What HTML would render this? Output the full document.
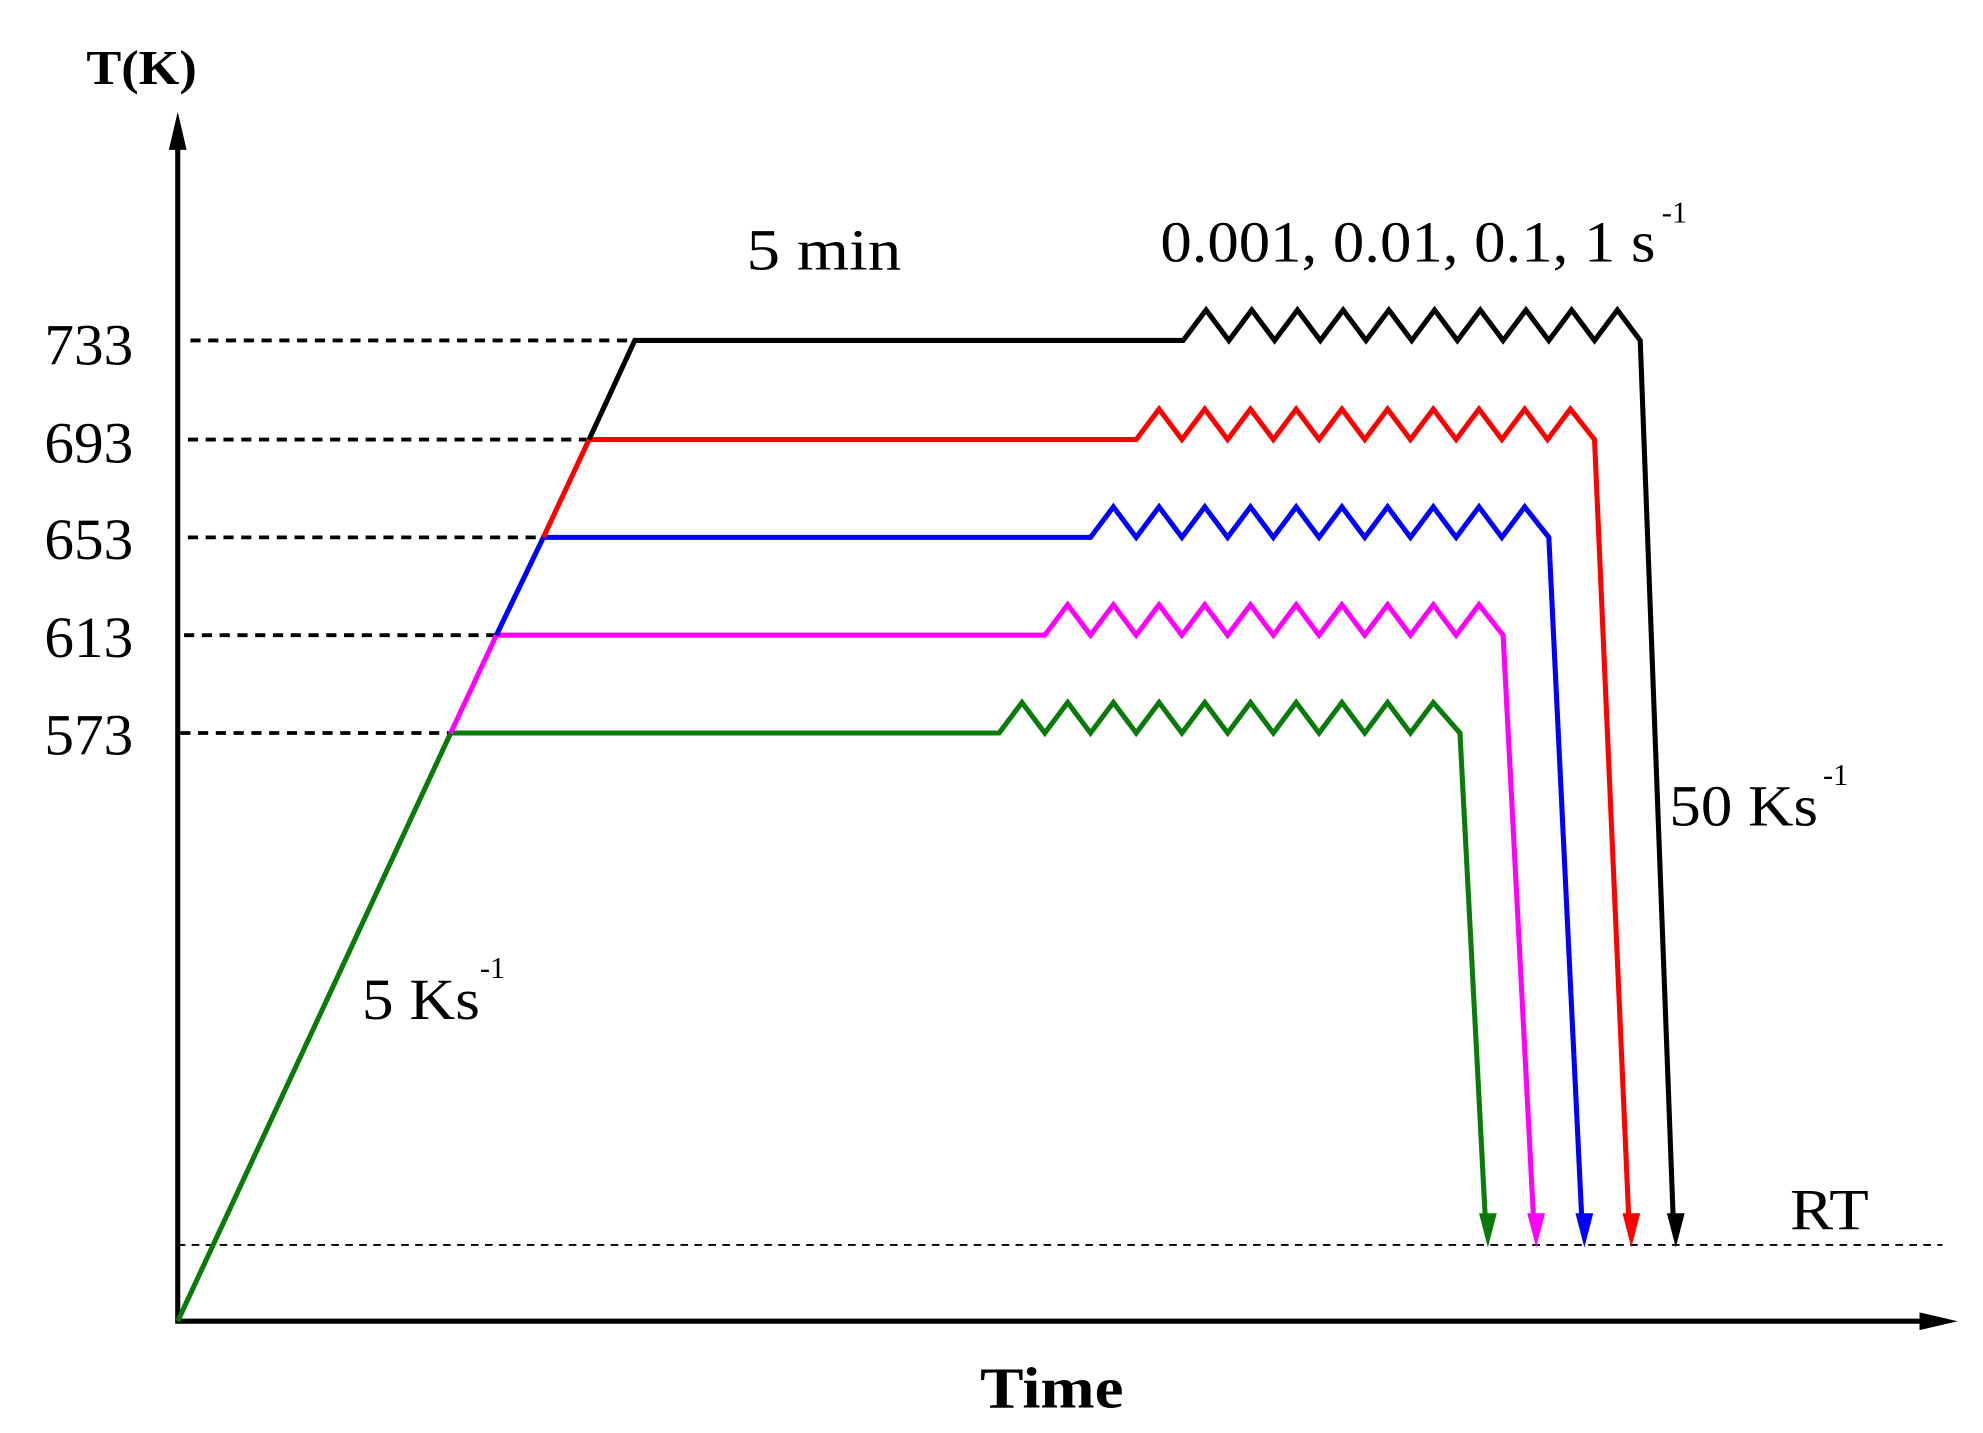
<!DOCTYPE html>
<html><head><style>html,body{margin:0;padding:0;background:#fff}svg{display:block}</style></head>
<body>
<svg width="1983" height="1433" viewBox="0 0 1562 1128" preserveAspectRatio="none" xmlns="http://www.w3.org/2000/svg" font-family="'Liberation Serif', serif">
<!-- axes -->
<line x1="140" y1="1040" x2="140" y2="105" stroke="#000" stroke-width="4"/>
<polygon points="140,88 133,118 147,118" fill="#000"/>
<line x1="138" y1="1040" x2="1515" y2="1040" stroke="#000" stroke-width="4"/>
<polygon points="1542,1040 1512,1033 1512,1047" fill="#000"/>
<!-- RT line -->
<line x1="140" y1="980" x2="1530" y2="980" stroke="#000" stroke-width="1.5" stroke-dasharray="6 5"/>
<!-- level dashes -->
<g stroke="#000" stroke-width="3" stroke-dasharray="8 6">
<line x1="150" y1="268" x2="498" y2="268"/>
<line x1="148" y1="346" x2="462" y2="346"/>
<line x1="148" y1="423" x2="426" y2="423"/>
<line x1="145" y1="500" x2="398" y2="500"/>
<line x1="142" y1="577" x2="355" y2="577"/>
</g>
<g fill="none" stroke-width="4" stroke-linejoin="miter">
<polyline stroke="#0a7a0a" points="140,1040 355,577 787,577 805,553 823,577 841,553 859,577 877,553 895,577 913,553 931,577 949,553 967,577 985,553 1003,577 1021,553 1039,577 1057,553 1075,577 1093,553 1111,577 1129,553 1150,577 1170,960"/>
<polyline stroke="#ff00ff" points="355,577 391,500 823,500 841,476 859,500 877,476 895,500 913,476 931,500 949,476 967,500 985,476 1003,500 1021,476 1039,500 1057,476 1075,500 1093,476 1111,500 1129,476 1147,500 1165,476 1184,500 1208,960"/>
<polyline stroke="#0000ff" points="391,500 428,423 859,423 877,399 895,423 913,399 931,423 949,399 967,423 985,399 1003,423 1021,399 1039,423 1057,399 1075,423 1093,399 1111,423 1129,399 1147,423 1165,399 1183,423 1201,399 1220,423 1246,960"/>
<polyline stroke="#ff0000" points="428,423 464,346 895,346 913,322 931,346 949,322 967,346 985,322 1003,346 1021,322 1039,346 1057,322 1075,346 1093,322 1111,346 1129,322 1147,346 1165,322 1183,346 1201,322 1219,346 1237,322 1256,346 1283,960"/>
<polyline stroke="#000" points="464,346 500,268 932,268 950,244 968,268 986,244 1004,268 1022,244 1040,268 1058,244 1076,268 1094,244 1112,268 1130,244 1148,268 1166,244 1184,268 1202,244 1220,268 1238,244 1256,268 1274,244 1292,268 1318,960"/>
</g>
<polygon points="1172,982 1165,955 1179,955" fill="#0a7a0a"/>
<polygon points="1210,982 1203,955 1217,955" fill="#ff00ff"/>
<polygon points="1248,982 1241,955 1255,955" fill="#0000ff"/>
<polygon points="1285,982 1278,955 1292,955" fill="#ff0000"/>
<polygon points="1320,982 1313,955 1327,955" fill="#000"/>
<!-- text -->
<g font-size="46" fill="#000">
<text x="35" y="287" textLength="70" lengthAdjust="spacingAndGlyphs">733</text>
<text x="35" y="364" textLength="70" lengthAdjust="spacingAndGlyphs">693</text>
<text x="35" y="440" textLength="70" lengthAdjust="spacingAndGlyphs">653</text>
<text x="35" y="517" textLength="70" lengthAdjust="spacingAndGlyphs">613</text>
<text x="35" y="594" textLength="70" lengthAdjust="spacingAndGlyphs">573</text>
<text x="588" y="212" textLength="122" lengthAdjust="spacingAndGlyphs">5 min</text>
<text x="914" y="206" textLength="390" lengthAdjust="spacingAndGlyphs">0.001, 0.01, 0.1, 1 s</text>
<text x="1309" y="175" font-size="24">-1</text>
<text x="1315" y="650" textLength="117" lengthAdjust="spacingAndGlyphs">50 Ks</text>
<text x="1436" y="618" font-size="24">-1</text>
<text x="285" y="802" textLength="93" lengthAdjust="spacingAndGlyphs">5 Ks</text>
<text x="378" y="770" font-size="24">-1</text>
<text x="1410" y="968" textLength="62" lengthAdjust="spacingAndGlyphs">RT</text>
<text x="68" y="66" font-weight="bold" font-size="38" textLength="87" lengthAdjust="spacingAndGlyphs">T(K)</text>
<text x="772" y="1108" font-weight="bold" font-size="46" textLength="113" lengthAdjust="spacingAndGlyphs">Time</text>
</g>
</svg>
</body></html>
